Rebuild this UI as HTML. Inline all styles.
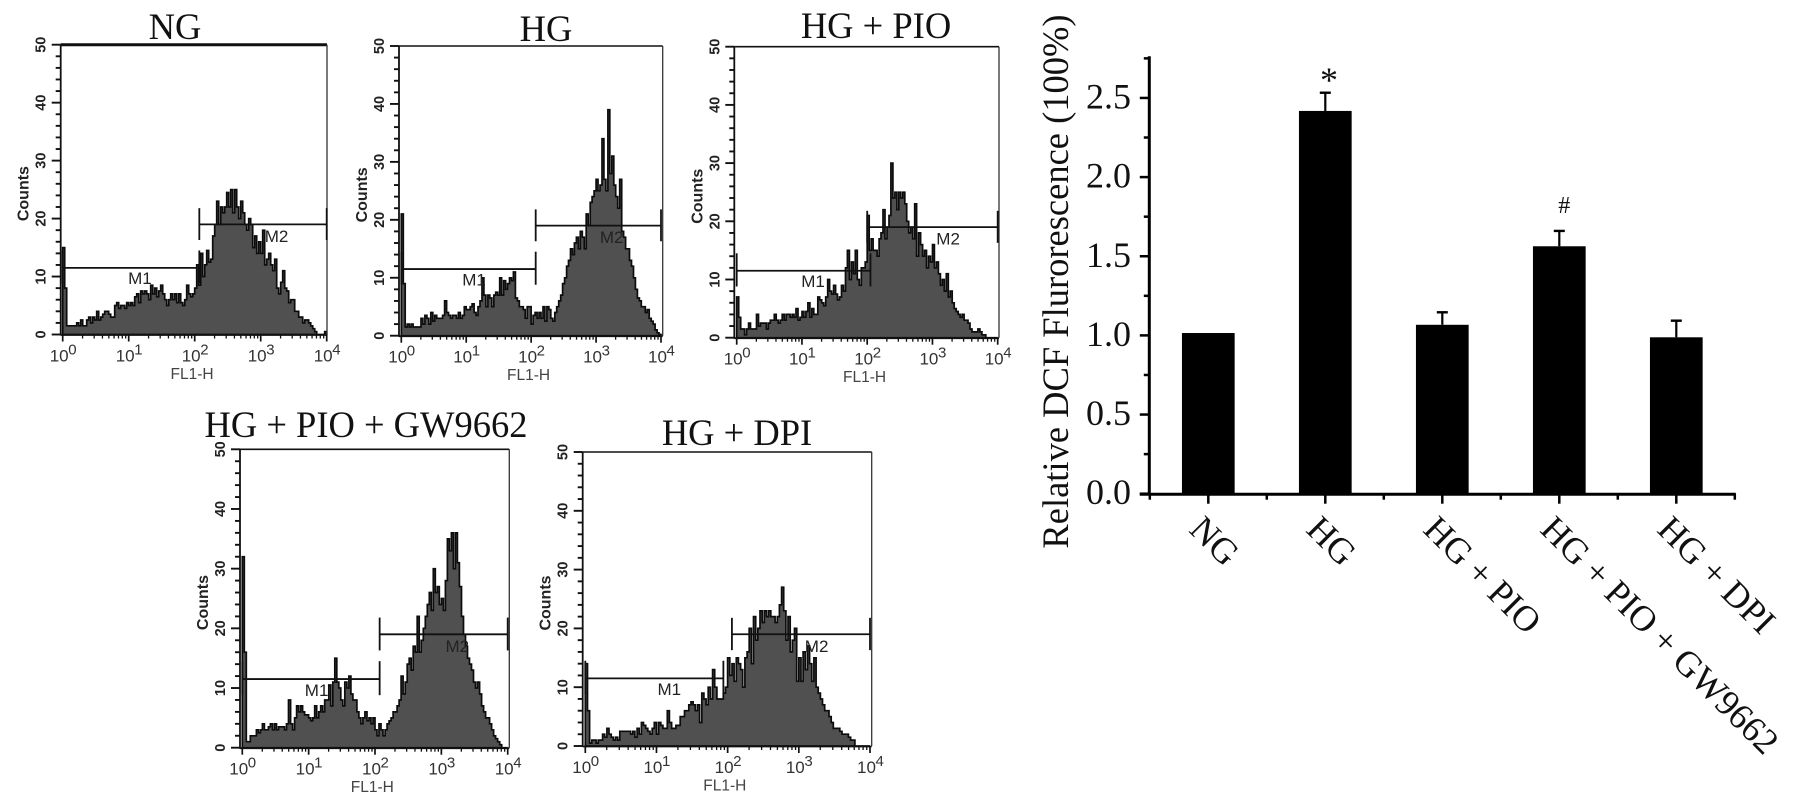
<!DOCTYPE html>
<html lang="en">
<head>
<meta charset="utf-8">
<title>DCF flow cytometry histograms and bar chart</title>
<style>
html,body{margin:0;padding:0;background:#fff;width:1795px;height:809px;overflow:hidden}
svg{display:block}
.serif{font-family:"Liberation Serif",serif;fill:#111}
.sans{font-family:"Liberation Sans",sans-serif}
</style>
</head>
<body>
<svg id="figure" xmlns="http://www.w3.org/2000/svg" width="1795" height="809" viewBox="0 0 1795 809"></svg>
<script>
// Histogram data: counts per channel, 33 channels per decade
const ngCounts = [15,8,1.5,1.5,1.5,1.5,1.5,2,1.5,2.5,1.5,1.5,2.5,3,2,3,2.5,4,2.5,3,3.5,4,4,3.5,3,3,5,5.5,4.5,5,5,4.5,5.5,
5,5.5,5,6.5,7,5.5,7.5,7,7.5,7,6,8.5,7,8,6.5,7.5,8.5,7,6,5,6,7,6,7,5.5,7,5.5,5,6,8.5,7,6.5,7,
8,12,8.5,14,10,12,14.5,12.5,13,17,19,23,19,22,21,22,24.5,22,25,21,25,22,20,23,21,19,18,20,19,15,17,14,16,
14,18,12,13,14,12,11,13,8,7,9,11,8,7.5,5.5,6,6,4,4,3,3,2,2.5,2.5,2,1.5,1,0.5,0,0,0,0,0.5];
const hgCounts = [21,9,1.5,2,1.5,2,1.5,1.5,1.5,1.5,3,2,3.5,3,2,4,2.5,3.5,3,3,3,3.5,6,4,3.5,3,3.5,3.5,3,4,3,3.5,5,
4.5,4.5,5,5.5,4,3.5,5,6,10,7,5,7,6.5,5,7,7.5,7,10,7,9.5,8,9,10,9.5,11,6.5,6,5,5,4.5,3,5,5,
2,3.5,4,3,4,3,5,2.5,5,4.5,3,2.5,4,5,6,7,9,10,12,13,15,14,16,17,15,18,17,15,21,19,23,24,25,
27,25,26,34,27,25,39,28,31,26,24,22,27,18,17,15,15,13,12,10,8,6.5,6,5,5,4,4.5,3,2.5,2,1,0.5,0.2];
const pioCounts = [7,3.5,1.5,1.5,0.5,1.5,2.5,1.5,1.5,1.5,4,2,2.5,2.5,2.5,1.5,2.5,3,3,4,3,2.5,3,4,3,4,4,3.5,4,3.5,5,3,3.5,
4.5,3.5,4.5,6,3.5,5,4,4,7,6.5,6,5.5,7,10,8,7.5,9,7.5,6.5,7,9,8,12,15,10,13,11,15,10,9,12,12,13,
21,15,17,15,15,14,17,18,22,17,19,21,30,24,25,22,25,24,25,23,20,18,19,17,23,14,18,16,14,15,12,14,13,
16,12,13,11,9,10,8,11,7,8,6,5,4.5,4,3.5,4,3,3,2.5,1.5,1,1,1,1.5,1,0.5,0.5,0,0,0,0,0,0];
const gwCounts = [32,16,1,1,2,2,2,3,2.5,3,4,3,3,3.5,4,3,4,3,3.5,3.5,3.5,3,4,8,4,3,5,7,6,7,6,5.5,5.5,
5,4.5,5,7,5,6,7,6,8,8,10.5,7,11,15,11,10,8,7,11,10,12,9,8,8,6,5,4,5,6,4.5,5,4,5,
3,2,4,3,2,3,4,4.5,5,6,6,7,8,12,9,11,14,15,13,17,16,22,16,18,20,22,24,26,23,30,26,27,24,
25,23,28,35,33,36,30,36,31,27,22,19,17,15,14,13,11,10,11,9,7,6,5,5,4,3,2,1.5,1,0.5,0,0,0];
const dpiCounts = [14,6,0.5,1,1,0.5,1,1,2,1.5,3,2,1.5,1,1.5,1,2.5,2.5,2.5,2.5,2.5,2,2.5,1.5,3,2,4,3.5,3,2.5,2,3,4,
2,4,3.5,3,3,6,4,3,3,3.5,3.5,5,5,6,6,7,7.5,7,6,7,4,9,8,7,10,8,13,10,8,8,8,9,10,
15,12,14,11,15,14,13,10,15,16,20,14,22,18,20,23,21,23,22,23,22,22,21,22,24,27,23,18,22,16,18,20,11,
15,11,16,13,17,14,11,15,10,9,8,7,6,6,5,4,3,3,3,2.5,2,2,2,1.5,1,1,0,0,0,0,0,0,0];
const countTicks = [0,10,20,30,40,50];
const decadeTicks = [0,1,2,3,4];

// Bar chart data
const barCategories = ["NG","HG","HG + PIO","HG + PIO + GW9662","HG + DPI"];
const barValues = [1.015,2.418,1.067,1.563,0.988];
const barErrors = [0,0.115,0.079,0.097,0.105];
const barMarks = ["","*","","#",""];
const barTickLabels = ["0.0","0.5","1.0","1.5","2.0","2.5"];
const barTickValues = [0,0.5,1,1.5,2,2.5];

const SVGNS = "http://www.w3.org/2000/svg";
const root = document.getElementById("figure");
function el(parent, tag, props, text) {
  const n = document.createElementNS(SVGNS, tag);
  for (const k in props) n.setAttribute(k, props[k]);
  if (text !== undefined) n.textContent = text;
  parent.appendChild(n);
  return n;
}
function name(n, label, interact) {
  
  
  return n;
}
function line(parent, x1, y1, x2, y2, w, c) {
  return el(parent, "line", {x1:x1, y1:y1, x2:x2, y2:y2, stroke:c || "#111", "stroke-width":w});
}

const panels = [
  {id:"ng", title:"NG", counts:ngCounts, left:60.7, right:327, top:44.7, base:334.5, x0:62.7, x4:326.7, tx:175, ty:39, topW:3, m:2.07, m1e:2.07, m1x:1.17, m2x:3.24},
  {id:"hg", title:"HG", counts:hgCounts, left:399, right:662.7, top:46, base:335.7, x0:401.3, x4:661, tx:546, ty:41, topW:1.6, m:2.07, m1e:2.07, m1x:1.12, m2x:3.24},
  {id:"hg-pio", title:"HG + PIO", counts:pioCounts, left:734.3, right:999, top:46.7, base:337.7, x0:736.7, x4:997.7, tx:876, ty:38, topW:1.6, m:2.0, m1e:2.05, m1x:1.17, m2x:3.24},
  {id:"hg-pio-gw9662", title:"HG + PIO + GW9662", counts:gwCounts, left:240, right:509.3, top:449.3, base:747.7, x0:242.3, x4:507.7, tx:366, ty:437, topW:1.6, m:2.07, m1e:2.07, m1x:1.12, m2x:3.24},
  {id:"hg-dpi", title:"HG + DPI", counts:dpiCounts, left:582.7, right:871.7, top:452, base:746, x0:585.3, x4:870, tx:737, ty:445, topW:1.6, m:2.06, m1e:1.94, m1x:1.18, m2x:3.25}
];

function drawPanel(p) {
  const g = name(el(root, "g", {}), "histogram-" + p.id, false);
  const xOf = d => p.x0 + d / 4 * (p.x4 - p.x0);
  const yOf = v => p.base - v / 50 * (p.base - p.top);

  const title = el(g, "text", {x:p.tx, y:p.ty, "text-anchor":"middle", "font-size":36.5, class:"serif"}, p.title);
  name(title, "panel-title", false);

  // histogram
  const n = p.counts.length;
  const step = 4 / n;
  let d = "M" + xOf(0).toFixed(1) + " " + yOf(0).toFixed(1);
  p.counts.forEach((v, i) => {
    d += "L" + xOf(i * step).toFixed(1) + " " + yOf(v).toFixed(1);
    d += "L" + xOf((i + 1) * step).toFixed(1) + " " + yOf(v).toFixed(1);
  });
  d += "L" + xOf(4).toFixed(1) + " " + yOf(0).toFixed(1) + "Z";
  const hist = el(g, "path", {d:d, fill:"#505050", stroke:"#0c0c0c", "stroke-width":1.7, "stroke-linejoin":"miter"});
  name(hist, "histogram-area", false);

  // frame
  const frame = name(el(g, "g", {}), "plot-frame", false);
  line(frame, p.left, p.top, p.right, p.top, p.topW);
  line(frame, p.right, p.top, p.right, p.base, 1.3, "#333");
  line(frame, p.left, p.top, p.left, p.base + 1, 1.8);
  line(frame, p.left, p.base + 0.5, p.right, p.base + 0.5, 1.8);

  // y ticks
  const yAxis = name(el(g, "g", {}), "y-axis", false);
  for (let c = 0; c <= 50; c += 2) {
    const major = c % 10 === 0;
    line(yAxis, p.left - (major ? 9 : 5), yOf(c), p.left, yOf(c), 1.9);
  }
  countTicks.forEach(c => {
    const lx = p.left - 15, ly = yOf(c);
    const t = el(yAxis, "text", {x:lx, y:ly, transform:"rotate(-90 " + lx + " " + ly + ")", "text-anchor":"middle", "font-size":14.5, "font-weight":"bold", class:"sans", fill:"#222"}, String(c));
    name(t, "y-tick-label", false);
  });
  const cx = p.left - 32, cy = (p.base + p.top) / 2 + 4;
  const ct = el(yAxis, "text", {x:cx, y:cy, transform:"rotate(-90 " + cx + " " + cy + ")", "text-anchor":"middle", "font-size":16, "font-weight":"bold", class:"sans", fill:"#222"}, "Counts");
  name(ct, "y-axis-title", false);

  // x ticks
  const xAxis = name(el(g, "g", {}), "x-axis", false);
  decadeTicks.forEach(k => {
    line(xAxis, xOf(k), p.base, xOf(k), p.base + 7, 1.7);
    if (k < 4) for (let m = 2; m <= 9; m++) {
      const xm = xOf(k + Math.log10(m));
      line(xAxis, xm, p.base, xm, p.base + 4, 1.3);
    }
    const lab = el(xAxis, "text", {x:xOf(k) - 13, y:p.base + 27, "font-size":17, class:"sans", fill:"#333"}, "10");
    name(lab, "x-tick-label", false);
    const sup = el(xAxis, "text", {x:xOf(k) + 5.5, y:p.base + 20, "font-size":15, class:"sans", fill:"#333"}, String(k));
    name(sup, "x-tick-exponent", false);
  });
  const fl = el(xAxis, "text", {x:xOf(1.96), y:p.base + 44.5, "text-anchor":"middle", "font-size":15.5, class:"sans", fill:"#444"}, "FL1-H");
  name(fl, "x-axis-title", false);

  // markers
  const m1 = name(el(g, "g", {}), "marker-m1", true);
  line(m1, xOf(0), yOf(11.5), xOf(p.m1e), yOf(11.5), 1.8);
  line(m1, xOf(0), yOf(8.8), xOf(0), yOf(14.5), 1.8);
  line(m1, xOf(p.m1e), yOf(8.8), xOf(p.m1e), yOf(14.5), 1.8);
  const m1t = el(m1, "text", {x:xOf(p.m1x), y:yOf(8.7), "text-anchor":"middle", "font-size":17, class:"sans", fill:"#222"}, "M1");
  name(m1t, "marker-m1-label", false);
  const m2 = name(el(g, "g", {}), "marker-m2", true);
  line(m2, xOf(p.m), yOf(19), xOf(4), yOf(19), 1.8);
  line(m2, xOf(p.m), yOf(16.3), xOf(p.m), yOf(21.8), 1.8);
  line(m2, xOf(4), yOf(16.3), xOf(4), yOf(21.8), 1.8);
  const m2t = el(m2, "text", {x:xOf(p.m2x), y:yOf(16), "text-anchor":"middle", "font-size":17, class:"sans", fill:"#222"}, "M2");
  name(m2t, "marker-m2-label", false);
}
panels.forEach(drawPanel);

// Bar chart
const chart = name(el(root, "g", {}), "bar-chart", false);
const axisX = 1149.3, y0 = 493.7, unit = 158.3, firstBar = 1208.3, barStep = 117, barW = 52.7;
const yBar = v => y0 - v * unit;
const xBar = i => firstBar + i * barStep;

barValues.forEach((v, i) => {
  const bar = el(chart, "rect", {x:xBar(i) - barW / 2, y:yBar(v), width:barW, height:y0 - yBar(v), fill:"#000"});
  name(bar, "bar-" + barCategories[i].toLowerCase().replace(/ \+ /g, "-"), false);
  if (barErrors[i] > 0) {
    const top = yBar(v + barErrors[i]);
    const err = name(el(chart, "g", {}), "error-bar", false);
    line(err, xBar(i), yBar(v), xBar(i), top, 2.2, "#000");
    line(err, xBar(i) - 5.5, top, xBar(i) + 5.5, top, 2.4, "#000");
  }
  if (barMarks[i]) {
    const star = barMarks[i] === "*";
    const t = el(chart, "text", {x:xBar(i) + (star ? 3.7 : 5), y:yBar(v + barErrors[i]) + (star ? -0.5 : -18), "text-anchor":"middle", "font-size":star ? 36 : 24, class:"serif"}, barMarks[i]);
    name(t, star ? "significance-asterisk" : "significance-hash", false);
  }
});

const yAx = name(el(chart, "g", {}), "bar-y-axis", false);
line(yAx, axisX, 56.3, axisX, y0 + 1.5, 3, "#000");
for (let k = 0; k <= 5; k++) {
  const v = k * 0.5;
  line(yAx, axisX - 9.5, yBar(v), axisX, yBar(v), 2.5, "#000");
  line(yAx, axisX - 5.5, yBar(v + 0.25), axisX, yBar(v + 0.25), 2.5, "#000");
}
barTickValues.forEach((v, i) => {
  const t = el(yAx, "text", {x:1131, y:yBar(v) + 10.5, "text-anchor":"end", "font-size":36, class:"serif"}, barTickLabels[i]);
  name(t, "bar-y-tick-label", false);
});
const tl = el(yAx, "text", {x:1068, y:281.5, transform:"rotate(-90 1068 281.5)", "text-anchor":"middle", "font-size":36.5, class:"serif"}, "Relative DCF Flurorescence (100%)");
name(tl, "bar-y-axis-title", false);

const xAx = name(el(chart, "g", {}), "bar-x-axis", false);
line(xAx, axisX - 9.5, y0 + 0.5, xBar(4) + barStep / 2 + 1, y0 + 0.5, 3, "#000");
line(xAx, xBar(0) - barStep / 2, y0, xBar(0) - barStep / 2, y0 + 6, 2.5, "#000");
barCategories.forEach((c, i) => {
  line(xAx, xBar(i), y0, xBar(i), y0 + 10, 2.5, "#000");
  line(xAx, xBar(i) + barStep / 2, y0, xBar(i) + barStep / 2, y0 + 6, 2.5, "#000");
  const sx = xBar(i) - 20.5, sy = 531;
  const t = el(xAx, "text", {x:sx, y:sy, transform:"rotate(45 " + sx + " " + sy + ")", "font-size":36, class:"serif"}, c);
  name(t, "bar-x-tick-label", false);
});
</script>
</body>
</html>
